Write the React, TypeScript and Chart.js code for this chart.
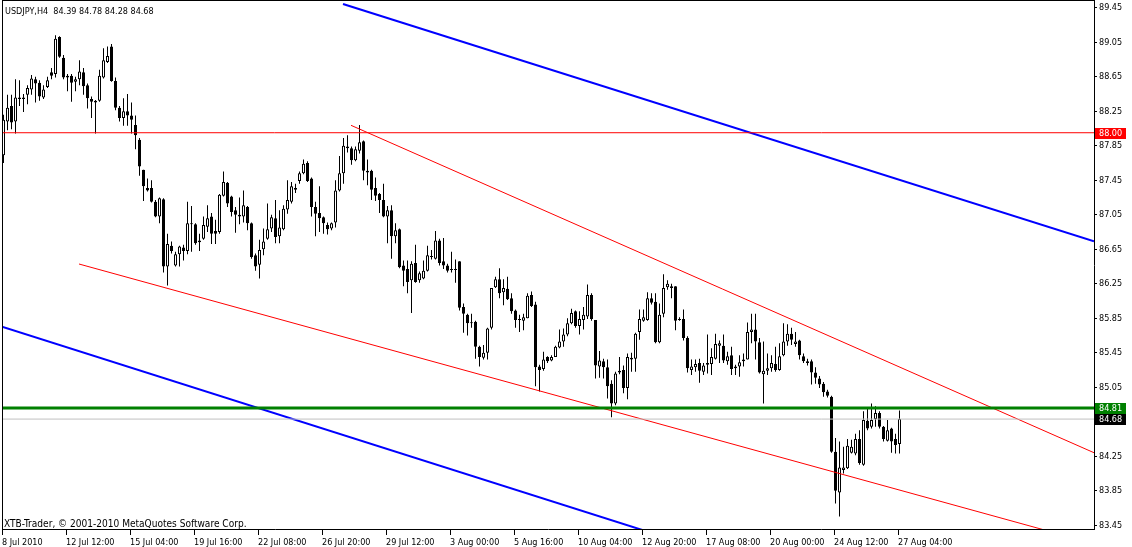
import React, { useEffect, useRef } from 'react';
import { Chart, registerables } from 'chart.js';

Chart.register(...registerables);

const FONT = "'DejaVu Sans Condensed', 'DejaVu Sans', sans-serif";

// OHLC of USDJPY H4 bars, bar 0 = 8 Jul 2010 00:00
const opens = [
  87.74, 88.13, 88.31, 88.13, 88.41, 88.39, 88.44, 88.50, 88.62, 88.58,
  88.41, 88.53, 88.70, 88.68, 89.11, 88.87, 88.66, 88.66, 88.59, 88.62,
  88.70, 88.55, 88.39, 88.37, 88.37, 88.64, 88.82, 89.00, 88.60, 88.29,
  88.17, 88.25, 88.20, 88.09, 87.92, 87.57, 87.36, 87.36, 87.20, 87.03,
  87.23, 86.45, 86.69, 86.46, 86.59, 86.67, 86.63, 86.95, 86.94, 86.75,
  86.77, 86.91, 87.03, 86.86, 86.85, 87.27, 87.42, 87.26, 87.10, 87.05,
  87.03, 87.14, 86.95, 86.58, 86.47, 86.65, 86.77, 86.89, 87.01, 86.80,
  86.88, 87.11, 87.20, 87.36, 87.44, 87.53, 87.65, 87.47, 87.14, 87.07,
  87.02, 86.93, 86.89, 86.96, 87.33, 87.53, 87.84, 87.82, 87.68, 87.79,
  87.90, 87.56, 87.56, 87.36, 87.29, 87.22, 87.03, 87.10, 86.80, 86.88,
  86.46, 86.42, 86.29, 86.49, 86.29, 86.31, 86.40, 86.57, 86.54, 86.75,
  86.51, 86.46, 86.42, 86.42, 86.51, 85.98, 85.89, 85.80, 85.81, 85.52,
  85.39, 85.45, 85.74, 86.21, 86.30, 86.15, 86.19, 86.08, 85.94, 85.84,
  85.82, 85.85, 86.12, 86.01, 85.29, 85.26, 85.40, 85.36, 85.40, 85.51,
  85.58, 85.66, 85.79, 85.93, 85.76, 85.83, 85.87, 86.12, 85.83, 85.29,
  85.35, 85.28, 85.09, 84.86, 85.22, 85.25, 85.04, 85.39, 85.38, 85.69,
  85.82, 85.83, 86.08, 86.04, 85.57, 85.90, 86.21, 86.22, 86.22, 85.84,
  85.84, 85.62, 85.25, 85.28, 85.33, 85.23, 85.31, 85.32, 85.38, 85.53,
  85.53, 85.35, 85.42, 85.29, 85.29, 85.37, 85.37, 85.69, 85.72, 85.57,
  85.20, 85.24, 85.27, 85.32, 85.25, 85.42, 85.58, 85.67, 85.55, 85.59,
  85.41, 85.33, 85.35, 85.22, 85.15, 85.09, 85.00, 84.94, 84.30, 83.83,
  84.09, 84.11, 84.29, 84.28, 84.45, 84.15, 84.66, 84.59, 84.68, 84.75,
  84.59, 84.43, 84.57, 84.45, 84.39,
];
const highs = [
  88.21, 88.44, 88.44, 88.62, 88.61, 88.45, 88.55, 88.67, 88.65, 88.61,
  88.55, 88.65, 88.75, 89.13, 89.12, 88.90, 88.68, 88.68, 88.65, 88.84,
  88.75, 88.57, 88.42, 88.38, 88.73, 88.98, 89.00, 89.03, 88.64, 88.31,
  88.40, 88.45, 88.35, 88.20, 87.94, 87.57, 87.47, 87.45, 87.22, 87.25,
  87.24, 86.83, 86.74, 86.62, 86.69, 86.70, 87.20, 87.15, 86.95, 86.83,
  87.03, 87.16, 87.07, 86.99, 87.29, 87.55, 87.43, 87.27, 87.14, 87.25,
  87.33, 87.15, 86.96, 86.60, 86.76, 86.89, 87.18, 87.05, 87.22, 87.10,
  87.16, 87.45, 87.43, 87.41, 87.55, 87.69, 87.67, 87.48, 87.20, 87.38,
  87.03, 86.96, 86.96, 87.45, 87.73, 87.94, 87.97, 87.84, 87.84, 88.09,
  87.91, 87.69, 87.57, 87.48, 87.30, 87.41, 87.15, 87.16, 86.95, 86.89,
  86.52, 86.52, 86.51, 86.70, 86.39, 86.52, 86.69, 86.64, 86.86, 86.77,
  86.78, 86.48, 86.62, 86.53, 86.51, 86.02, 85.90, 85.90, 85.82, 85.53,
  85.54, 85.74, 86.20, 86.33, 86.43, 86.30, 86.33, 86.14, 85.95, 85.89,
  85.90, 86.14, 86.16, 86.04, 85.31, 85.46, 85.41, 85.42, 85.53, 85.72,
  85.73, 85.85, 85.96, 85.94, 85.93, 85.98, 86.24, 86.14, 85.83, 85.47,
  85.38, 85.37, 85.13, 85.23, 85.40, 85.30, 85.44, 85.45, 85.68, 85.95,
  85.95, 86.15, 86.14, 86.14, 86.02, 86.36, 86.29, 86.25, 86.22, 85.86,
  85.95, 85.64, 85.37, 85.37, 85.38, 85.33, 85.66, 85.50, 85.67, 85.59,
  85.66, 85.46, 85.52, 85.31, 85.42, 85.44, 85.80, 85.90, 85.90, 85.62,
  85.58, 85.44, 85.42, 85.52, 85.56, 85.79, 85.78, 85.74, 85.69, 85.60,
  85.44, 85.38, 85.37, 85.28, 85.18, 85.11, 85.02, 84.95, 84.46, 84.42,
  84.36, 84.45, 84.44, 84.51, 84.55, 84.77, 84.80, 84.86, 84.83, 84.77,
  84.60, 84.67, 84.58, 84.51, 84.78,
];
const lows = [
  87.65, 88.03, 88.04, 87.99, 88.31, 88.24, 88.33, 88.44, 88.35, 88.37,
  88.39, 88.52, 88.62, 88.64, 88.87, 88.62, 88.48, 88.36, 88.48, 88.55,
  88.44, 88.28, 88.17, 87.99, 88.36, 88.63, 88.81, 88.59, 88.26, 88.13,
  88.08, 88.08, 87.99, 87.81, 87.50, 87.21, 87.32, 87.19, 87.02, 86.95,
  86.38, 86.23, 86.60, 86.45, 86.45, 86.52, 86.59, 86.62, 86.70, 86.63,
  86.76, 86.85, 86.71, 86.71, 86.83, 87.26, 87.14, 87.03, 86.84, 86.94,
  86.96, 86.87, 86.54, 86.40, 86.31, 86.58, 86.76, 86.85, 86.72, 86.72,
  86.87, 87.06, 87.18, 87.30, 87.41, 87.52, 87.43, 87.03, 86.80, 86.85,
  86.83, 86.82, 86.87, 86.90, 87.32, 87.41, 87.77, 87.63, 87.67, 87.76,
  87.45, 87.39, 87.22, 87.21, 87.07, 87.02, 86.72, 86.54, 86.72, 86.43,
  86.22, 86.14, 85.91, 86.26, 86.26, 86.30, 86.39, 86.53, 86.53, 86.46,
  86.42, 86.38, 86.38, 86.26, 85.94, 85.68, 85.65, 85.74, 85.38, 85.29,
  85.37, 85.37, 85.72, 86.20, 86.08, 86.00, 86.06, 85.90, 85.74, 85.69,
  85.71, 85.85, 85.98, 85.06, 85.00, 85.24, 85.33, 85.35, 85.40, 85.50,
  85.52, 85.64, 85.78, 85.74, 85.66, 85.72, 85.84, 85.82, 85.15, 85.16,
  85.15, 84.92, 84.70, 84.84, 85.20, 84.98, 84.91, 85.23, 85.23, 85.60,
  85.81, 85.82, 86.01, 85.56, 85.56, 85.86, 86.18, 86.08, 85.71, 85.82,
  85.59, 85.22, 85.19, 85.23, 85.10, 85.19, 85.21, 85.19, 85.37, 85.33,
  85.33, 85.31, 85.19, 85.19, 85.17, 85.29, 85.37, 85.56, 85.37, 85.21,
  84.86, 85.19, 85.23, 85.23, 85.24, 85.41, 85.53, 85.54, 85.52, 85.37,
  85.33, 85.30, 85.08, 85.09, 85.04, 84.94, 84.93, 84.29, 83.70, 83.55,
  84.05, 84.10, 84.28, 84.26, 84.15, 84.14, 84.55, 84.57, 84.59, 84.57,
  84.42, 84.42, 84.29, 84.28, 84.28,
];
const closes = [
  88.15, 88.29, 88.12, 88.41, 88.39, 88.41, 88.52, 88.63, 88.57, 88.42,
  88.50, 88.61, 88.66, 89.09, 88.88, 88.64, 88.64, 88.58, 88.62, 88.71,
  88.54, 88.40, 88.36, 88.35, 88.66, 88.84, 88.89, 88.60, 88.29, 88.17,
  88.25, 88.20, 88.15, 87.97, 87.61, 87.38, 87.33, 87.20, 87.03, 87.24,
  86.45, 86.71, 86.63, 86.59, 86.68, 86.63, 86.95, 86.94, 86.72, 86.73,
  86.93, 87.01, 86.83, 86.83, 87.28, 87.43, 87.18, 87.08, 87.05, 87.03,
  87.16, 86.95, 86.56, 86.45, 86.64, 86.74, 86.88, 87.02, 86.79, 86.90,
  87.12, 87.22, 87.38, 87.34, 87.53, 87.64, 87.44, 87.14, 87.06, 87.01,
  86.95, 86.88, 86.95, 87.33, 87.53, 87.85, 87.82, 87.68, 87.81, 87.89,
  87.56, 87.54, 87.34, 87.27, 87.22, 87.03, 87.10, 86.80, 86.87, 86.44,
  86.40, 86.27, 86.48, 86.27, 86.37, 86.40, 86.58, 86.56, 86.75, 86.49,
  86.46, 86.40, 86.41, 86.41, 85.97, 85.90, 85.79, 85.79, 85.52, 85.40,
  85.45, 85.73, 86.20, 86.30, 86.14, 86.20, 86.07, 85.93, 85.83, 85.83,
  85.86, 86.11, 85.99, 85.28, 85.25, 85.37, 85.35, 85.40, 85.52, 85.58,
  85.66, 85.79, 85.91, 85.76, 85.84, 85.89, 86.12, 85.84, 85.30, 85.36,
  85.28, 85.06, 84.86, 85.21, 85.24, 85.04, 85.40, 85.37, 85.67, 85.84,
  85.86, 86.08, 86.03, 85.57, 85.89, 86.20, 86.25, 86.20, 85.82, 85.83,
  85.62, 85.27, 85.29, 85.32, 85.24, 85.30, 85.33, 85.40, 85.55, 85.56,
  85.36, 85.41, 85.26, 85.27, 85.34, 85.35, 85.69, 85.72, 85.58, 85.22,
  85.24, 85.27, 85.33, 85.25, 85.41, 85.58, 85.67, 85.60, 85.58, 85.42,
  85.35, 85.35, 85.22, 85.16, 85.08, 84.99, 84.95, 84.30, 83.85, 84.12,
  84.12, 84.37, 84.36, 84.45, 84.17, 84.67, 84.57, 84.67, 84.75, 84.59,
  84.45, 84.55, 84.42, 84.38, 84.68,
];

const timeLabels = [
  '8 Jul 2010', '12 Jul 12:00', '15 Jul 04:00', '19 Jul 16:00', '22 Jul 08:00',
  '26 Jul 20:00', '29 Jul 12:00', '3 Aug 00:00', '5 Aug 16:00', '10 Aug 04:00',
  '12 Aug 20:00', '17 Aug 08:00', '20 Aug 00:00', '24 Aug 12:00', '27 Aug 04:00',
];
const barsPerLabel = 16;

const priceTicks = [
  89.45, 89.05, 88.65, 88.25, 87.85, 87.45, 87.05, 86.65, 86.25, 85.85,
  85.45, 85.05, 84.65, 84.25, 83.85, 83.45,
];

const headerText = 'USDJPY,H4  84.39 84.78 84.28 84.68';
const footerText = 'XTB-Trader, \u00A9 2001-2010 MetaQuotes Software Corp.';

// Drawn objects (x = bar index, y = price)
const blueUpper = [{ x: 84.875, y: 89.493 }, { x: 272.625, y: 86.741 }];
const blueLower = [{ x: -0.375, y: 85.751 }, { x: 174.125, y: 83.182 }];
const redUpper = [{ x: 86.875, y: 88.086 }, { x: 272.625, y: 84.29 }];
const redLower = [{ x: 18.875, y: 86.478 }, { x: 272.625, y: 83.236 }];
const levelRed = 88.0;
const levelGreen = 84.81;
const bidPrice = 84.68;

const X_MIN = -0.375;
const X_MAX = 272.625;
const Y_MIN = 83.4057;
const Y_MAX = 89.5274;

const hLine = (v: number) => [{ x: X_MIN - 5, y: v }, { x: X_MAX + 5, y: v }];

// pick a font size so that a sample string reaches the width seen in the reference
function fitSize(sample: string, targetWidth: number): number {
  const c = document.createElement('canvas').getContext('2d');
  if (!c) return 9;
  c.font = `20px ${FONT}`;
  const w = c.measureText(sample).width;
  return w > 0 ? (20 * targetWidth) / w : 9;
}

export default function App() {
  const ref = useRef<HTMLCanvasElement | null>(null);

  useEffect(() => {
    document.body.style.margin = '0';
    const canvas = ref.current;
    if (!canvas) return;
    const axisSize = fitSize('12 Jul 12:00', 48.5);
    const headerSize = fitSize(headerText, 149);
    const footerSize = fitSize(footerText, 243);

    const overlayPlugin = {
      id: 'mtOverlay',
      afterDraw(chart: any) {
        const ctx = chart.ctx as CanvasRenderingContext2D;
        const ys = chart.scales.y;
        ctx.save();
        ctx.fillStyle = '#000';
        ctx.fillRect(2, 0, 1, 530);
        ctx.fillRect(2, 0, 1093, 1);
        ctx.textAlign = 'left';
        ctx.textBaseline = 'alphabetic';
        ctx.font = `${headerSize}px ${FONT}`;
        ctx.fillText(headerText, 5, 14);
        ctx.font = `${footerSize}px ${FONT}`;
        ctx.fillText(footerText, 4, 527);
        ctx.font = `${axisSize}px ${FONT}`;
        const boxes = [
          { v: levelRed, bg: '#FF0000' },
          { v: levelGreen, bg: '#008000' },
          { v: bidPrice, bg: '#000000' },
        ];
        for (const b of boxes) {
          const py = Math.round(ys.getPixelForValue(b.v));
          ctx.fillStyle = b.bg;
          ctx.fillRect(1095, py - 5, 31, 11);
          ctx.fillStyle = '#FFFFFF';
          ctx.textBaseline = 'middle';
          ctx.fillText(b.v.toFixed(2), 1099, py + 0.5);
        }
        ctx.restore();
      },
    };

    const idx = opens.map((_, i) => i);
    const lineDs = (data: any[], color: string, width: number) => ({
      type: 'line' as const,
      data,
      borderColor: color,
      backgroundColor: color,
      borderWidth: width,
      pointRadius: 0,
      tension: 0,
      fill: false,
      clip: 0,
    });
    const chart = new Chart(canvas, {
      type: 'bar',
      data: {
        datasets: [
          lineDs(hLine(levelRed), '#FF0000', 1),
          lineDs(hLine(levelGreen), '#008000', 3),
          lineDs(hLine(bidPrice), '#C0C0C0', 1),
          lineDs(blueUpper, '#0000FF', 2),
          lineDs(blueLower, '#0000FF', 2),
          lineDs(redUpper, '#FF0000', 1),
          lineDs(redLower, '#FF0000', 1),
          {
            type: 'bar' as const,
            data: idx.map((i) => ({ x: i, y: [opens[i], closes[i]] })),
            backgroundColor: (c: any) =>
              closes[c.dataIndex] >= opens[c.dataIndex] ? '#FFFFFF' : '#000000',
            borderColor: '#000000',
            borderWidth: 1,
            borderSkipped: false,
            barThickness: 3,
            minBarLength: 1,
            grouped: false,
            inflateAmount: 0,
            clip: 0,
          } as any,
          {
            type: 'bar' as const,
            data: idx.map((i) => ({ x: i, y: [lows[i], highs[i]] })),
            backgroundColor: '#000000',
            borderWidth: 0,
            barThickness: 1,
            minBarLength: 1,
            grouped: false,
            inflateAmount: 0,
            clip: 0,
          } as any,
        ] as any,
      },
      options: {
        animation: false,
        responsive: false,
        events: [],
        layout: { padding: { left: 2, top: 1, right: 0, bottom: 0 } },
        plugins: { legend: { display: false }, tooltip: { enabled: false } },
        scales: {
          x: {
            type: 'linear',
            min: X_MIN,
            max: X_MAX,
            offset: false,
            grid: {
              display: true,
              drawOnChartArea: false,
              drawTicks: true,
              tickLength: 6,
              color: '#000',
              offset: false,
            },
            border: { display: true, color: '#000', width: 1 },
            ticks: {
              autoSkip: false,
              maxRotation: 0,
              minRotation: 0,
              align: 'start',
              padding: 2,
              color: '#000',
              font: { family: FONT, size: axisSize },
              callback: (_v: any, i: number) => timeLabels[i],
            },
            afterBuildTicks: (s: any) => {
              s.ticks = timeLabels.map((_, k) => ({ value: k * barsPerLabel + X_MIN }));
            },
            afterFit: (s: any) => {
              s.height = 18;
              s.paddingLeft = 0;
              s.paddingRight = 0;
            },
          },
          y: {
            type: 'linear',
            position: 'right',
            min: Y_MIN,
            max: Y_MAX,
            grid: {
              display: true,
              drawOnChartArea: false,
              drawTicks: true,
              tickLength: 3,
              color: '#000',
            },
            border: { display: true, color: '#000', width: 1 },
            ticks: {
              padding: 2,
              color: '#000',
              font: { family: FONT, size: axisSize },
              callback: (v: any) => Number(v).toFixed(2),
            },
            afterBuildTicks: (s: any) => {
              s.ticks = priceTicks.map((v) => ({ value: v }));
            },
            afterFit: (s: any) => {
              s.width = 38;
              s.paddingTop = 0;
              s.paddingBottom = 0;
            },
          },
        },
      } as any,
      plugins: [overlayPlugin],
    });
    return () => chart.destroy();
  }, []);

  return (
    <div style={{ width: 1132, height: 547, background: '#fff' }}>
      <canvas ref={ref} width={1132} height={547} style={{ display: 'block' }} />
    </div>
  );
}
